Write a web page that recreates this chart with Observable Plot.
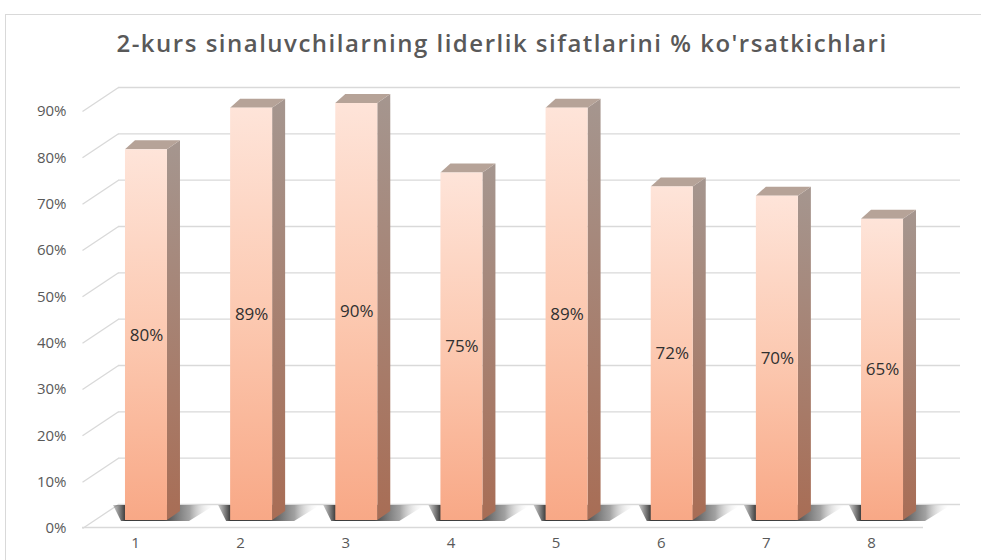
<!DOCTYPE html>
<html><head><meta charset="utf-8">
<script src="https://cdn.jsdelivr.net/npm/d3@7"></script>
<script src="https://cdn.jsdelivr.net/npm/@observablehq/plot@0.6"></script>
<style>
body{margin:0;background:#fff;width:981px;height:560px;overflow:hidden;position:relative;font-family:"Open Sans",sans-serif}
#frame{position:absolute;left:5px;top:14px;width:990px;height:560px;border:1px solid #d9d9d9;box-sizing:border-box}
#title{position:absolute;left:0;top:28px;width:1004px;text-align:center;font-size:24px;line-height:30px;letter-spacing:1.5px;font-weight:600;color:#595959;white-space:nowrap}
#chart{position:absolute;left:0;top:60px}
</style></head><body>
<div id="frame"></div>
<div id="title">2-kurs sinaluvchilarning liderlik sifatlarini % ko'rsatkichlari</div>
<div id="chart"></div>
<script>
// ---- data ----
const categories = ["1", "2", "3", "4", "5", "6", "7", "8"];
const values = [0.80, 0.89, 0.90, 0.75, 0.89, 0.72, 0.70, 0.65];
const valueLabels = ["80%", "89%", "90%", "75%", "89%", "72%", "70%", "65%"];
const yTicks = [0, 0.1, 0.2, 0.3, 0.4, 0.5, 0.6, 0.7, 0.8, 0.9];
const yTickLabels = ["0%", "10%", "20%", "30%", "40%", "50%", "60%", "70%", "80%", "90%"];

// ---- layout ----
const W = 981, H = 500, ML = 93.4, MR = 46.4, MT = 43, MB = 40;
const xu = (W - ML - MR) / categories.length;   // px per category
const yu = (H - MT - MB) / 0.9;                 // px per 100%
const px = p => p / xu, py = p => p / yu;
const HW = 21, DX = 13, DXL = 10, DY = 9;       // bar half width & depth (px)
const X0 = 0.5, X1 = categories.length + 0.5;

const bars = categories.map((c, i) => ({c, x: i + 1, v: values[i], label: valueLabels[i]}));
const sidePts = bars.flatMap(d => [
  {c: d.c, x: d.x + px(HW), y1: 0, y2: d.v},
  {c: d.c, x: d.x + px(HW + DX), y1: py(DY), y2: d.v + py(DY)}
]);
const topPts = bars.flatMap(d => [
  {c: d.c, y: d.v, x1: d.x - px(HW), x2: d.x + px(HW)},
  {c: d.c, y: d.v + py(DY), x1: d.x - px(HW - DXL), x2: d.x + px(HW + DX)}
]);
const shadowPts = bars.flatMap(d => [
  {c: d.c, y: -py(1), x1: d.x - px(HW + 4), x2: d.x + px(HW + 22)},
  {c: d.c, y: py(15), x1: d.x - px(HW + 12), x2: d.x + px(HW + 48)}
]);
const ticks = yTicks.map((v, i) => ({v, label: yTickLabels[i]}));

const chart = Plot.plot({
  width: W, height: H,
  marginLeft: ML, marginRight: MR, marginTop: MT, marginBottom: MB,
  x: {type: "linear", domain: [X0, X1], axis: null},
  y: {domain: [0, 0.9], axis: null},
  style: {fontFamily: "Open Sans", background: "transparent", overflow: "visible"},
  marks: [
    // back wall gridlines
    Plot.ruleY(yTicks, {y: d => d, x1: X0 + px(24.6), x2: X1 + px(25.4), dy: -16, stroke: "#d9d9d9", strokeWidth: 1.3}),
    // side wall diagonals
    Plot.link(yTicks, {x1: X0 - px(11.4), y1: d => d - py(8), x2: X0 + px(24.6), y2: d => d + py(16), stroke: "#d9d9d9", strokeWidth: 1.3}),
    // floor front edge
    Plot.ruleY([0], {x1: X0 - px(11.4), x2: X1 - px(11.6), dy: 7, stroke: "#d9d9d9", strokeWidth: 1.3}),
    // shadows
    Plot.areaX(shadowPts, {y: "y", x1: "x1", x2: "x2", z: "c", fill: "url(#gShadow)"}),
    // bars
    Plot.areaY(sidePts, {x: "x", y1: "y1", y2: "y2", z: "c", fill: "url(#gSide)"}),
    Plot.areaX(topPts, {y: "y", x1: "x1", x2: "x2", z: "c", fill: "#b6a398"}),
    Plot.rect(bars, {x1: d => d.x - px(HW), x2: d => d.x + px(HW), y1: 0, y2: "v", fill: "url(#gFront)"}),
    // value labels
    Plot.text(bars, {x: "x", y: d => d.v / 2, text: "label", fontSize: 17, fill: "#303030"}),
    // y tick labels
    Plot.text(ticks, {y: "v", text: "label", frameAnchor: "left", dx: -27.4, dy: 8, textAnchor: "end", fontSize: 15, fill: "#595959"}),
    // x tick labels
    Plot.text(bars, {x: "x", text: "c", frameAnchor: "bottom", dy: 27, dx: -11, fontSize: 15, fill: "#595959"})
  ]
});

const defs = d3.select(chart).insert("defs", ":first-child");
function grad(id, stops, horiz) {
  const g = defs.append("linearGradient").attr("id", id)
    .attr("x1", 0).attr("y1", 0).attr("x2", horiz ? 1 : 0).attr("y2", horiz ? 0 : 1);
  stops.forEach(([o, c, op]) => g.append("stop").attr("offset", o).attr("stop-color", c).attr("stop-opacity", op ?? 1));
}
grad("gFront", [[0, "#fee4d9"], [0.5, "#fcc9b1"], [1, "#f8a886"]]);
grad("gSide", [[0, "#a5968f"], [1, "#a86d55"]]);
grad("gShadow", [[0, "#555", 0.3], [0.12, "#3a3a3a"], [0.5, "#474747"], [0.75, "#8a8a8a", 0.8], [1, "#fff", 0]], true);

document.getElementById("chart").appendChild(chart);
</script>
</body></html>
